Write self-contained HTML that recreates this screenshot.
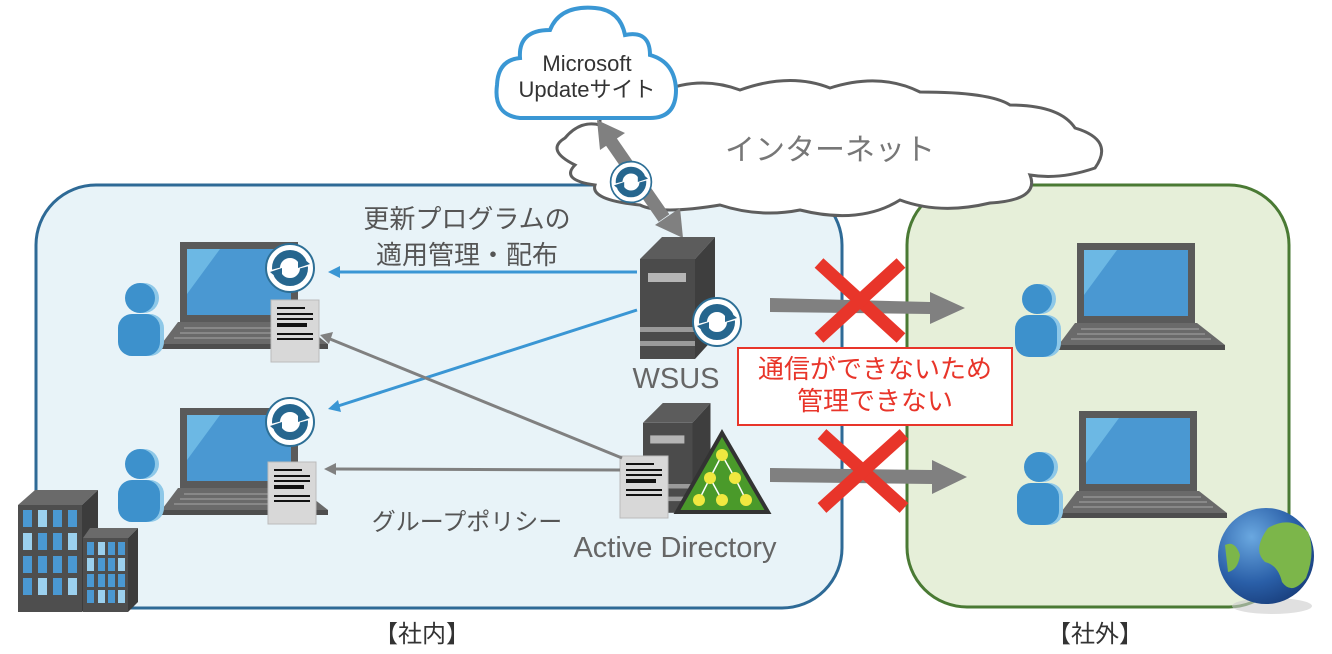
<!DOCTYPE html>
<html><head><meta charset="utf-8"><style>
html,body{margin:0;padding:0;background:#fff;}
svg{display:block;font-family:"Liberation Sans","Noto Sans CJK JP",sans-serif;}
</style></head><body>
<svg width="1332" height="654" viewBox="0 0 1332 654" xmlns="http://www.w3.org/2000/svg">
<defs>
<g id="sync">
 <circle r="24" fill="#fff" stroke="#2d6f96" stroke-width="2"/>
 <circle r="14" fill="none" stroke="#26668e" stroke-width="8"/>
 <rect x="-20" y="-3" width="40" height="6" fill="#fff" transform="rotate(-15)"/>
 <polygon points="8,-14 20,-4 8,0" fill="#26668e"/>
 <polygon points="-8,14 -20,4 -8,0" fill="#26668e"/>
</g>
<g id="laptop">
 <rect x="0" y="0" width="118" height="80" fill="#5a5a5a"/>
 <rect x="7" y="7" width="104" height="66" fill="#4a98d2"/>
 <polygon points="7,7 40,7 7,52" fill="#6cb8e4"/>
 <polygon points="-2,80 120,80 148,102 -20,104" fill="#6a6a6a"/>
 <rect x="-20" y="102" width="168" height="5" fill="#4e4e4e"/>
 <g stroke="#888" stroke-width="2">
  <line x1="4" y1="86" x2="122" y2="86"/><line x1="0" y1="91" x2="128" y2="91"/><line x1="-6" y1="96" x2="134" y2="96"/>
 </g>
 <circle cx="-36" cy="56" r="15" fill="#8ec8e8"/>
 <rect x="-58" y="72" width="42" height="42" rx="14" fill="#8ec8e8"/>
 <circle cx="-40" cy="56" r="15" fill="#3d91cc"/>
 <rect x="-62" y="72" width="42" height="42" rx="14" fill="#3d91cc"/>
</g>
<g id="doc">
 <rect x="0" y="0" width="48" height="62" fill="#d8d8d8" stroke="#bbb"/>
 <g fill="#111">
  <rect x="6" y="7" width="28" height="2"/><rect x="6" y="13" width="36" height="2"/><rect x="6" y="18" width="36" height="2"/><rect x="6" y="23" width="30" height="4"/><rect x="6" y="33" width="36" height="2"/><rect x="6" y="38" width="36" height="2"/>
 </g>
</g>
<g id="server">
 <polygon points="0,22 22,0 75,0 55,22" fill="#5c5c5c"/>
 <polygon points="55,22 75,0 75,100 55,122" fill="#3e3e3e"/>
 <rect x="0" y="22" width="55" height="100" fill="#4b4b4b"/>
 <rect x="8" y="36" width="38" height="9" fill="#b5b5b5"/>
 <rect x="0" y="90" width="55" height="5" fill="#9a9a9a"/>
 <rect x="0" y="104" width="55" height="5" fill="#9a9a9a"/>
</g>
<radialGradient id="gl" cx="0.35" cy="0.3" r="0.8"><stop offset="0" stop-color="#6aa8e0"/><stop offset="0.6" stop-color="#2a5fa8"/><stop offset="1" stop-color="#173b78"/></radialGradient>
</defs>

<!-- boxes -->
<rect x="36" y="185" width="806" height="423" rx="60" fill="#e8f3f8" stroke="#2e6a96" stroke-width="3"/>
<rect x="907" y="185" width="382" height="422" rx="60" fill="#e6efd9" stroke="#4a7a34" stroke-width="3"/>

<!-- internet cloud -->
<path d="M600,100 Q620,80 660,92 Q700,75 740,90 Q790,72 830,88 Q880,72 920,92 Q990,92 1010,105 Q1060,105 1075,128 Q1115,140 1095,168 Q1060,180 1030,175 Q1040,200 990,203 Q940,215 900,200 Q860,225 800,210 Q760,218 720,205 Q660,215 640,205 Q590,200 595,185 Q560,180 575,165 Q545,150 565,138 Q580,120 600,125 Z" fill="#fff" stroke="#5e5e5e" stroke-width="3"/>
<text x="830" y="160" font-size="30" fill="#777" text-anchor="middle">インターネット</text>

<!-- MS cloud -->
<path d="M520,118 Q493,115 497,85 Q498,60 520,58 Q518,30 550,30 Q560,5 595,8 Q620,10 625,35 Q650,30 650,55 Q675,62 676,90 Q676,118 650,118 Z" fill="#fff" stroke="#3a97d4" stroke-width="4"/>
<text x="587" y="71" font-size="22" fill="#333" text-anchor="middle">Microsoft</text>
<text x="587" y="97" font-size="22" fill="#333" text-anchor="middle">Updateサイト</text>

<!-- double arrow -->
<line x1="610" y1="140" x2="664" y2="218" stroke="#808080" stroke-width="13"/>
<polygon points="597,120 625,133 600,150" fill="#808080"/>
<polygon points="683,238 655,225 680,208" fill="#808080"/>
<use href="#sync" transform="translate(631,182) scale(0.85)"/>

<!-- laptops -->
<use href="#laptop" x="180" y="242"/>
<use href="#laptop" x="180" y="408"/>
<use href="#laptop" x="1077" y="243"/>
<use href="#laptop" x="1079" y="411"/>
<use href="#sync" x="290" y="268"/>
<use href="#sync" x="290" y="422"/>
<use href="#doc" x="271" y="300"/>
<use href="#doc" x="268" y="462"/>

<!-- servers -->
<use href="#server" x="640" y="237"/>
<use href="#sync" x="717" y="322"/>
<text x="676" y="388" font-size="29" fill="#666" text-anchor="middle">WSUS</text>
<use href="#server" x="643" y="403" transform="translate(643,403) scale(0.9) translate(-643,-403)"/>
<polygon points="722,433 768,512 677,512" fill="#4a9a2a" stroke="#333" stroke-width="4"/>
<g stroke="#fff" stroke-width="1.5"><line x1="722" y1="455" x2="710" y2="478"/><line x1="722" y1="455" x2="735" y2="478"/><line x1="710" y1="478" x2="699" y2="500"/><line x1="710" y1="478" x2="722" y2="500"/><line x1="735" y1="478" x2="746" y2="500"/></g>
<g fill="#f0e840"><circle cx="722" cy="455" r="6"/><circle cx="710" cy="478" r="6"/><circle cx="735" cy="478" r="6"/><circle cx="699" cy="500" r="6"/><circle cx="722" cy="500" r="6"/><circle cx="746" cy="500" r="6"/></g>
<use href="#doc" x="620" y="456"/>

<!-- connectors -->
<line x1="637" y1="272" x2="336" y2="272" stroke="#3a96d4" stroke-width="3"/>
<polygon points="328,272 340,266 340,278" fill="#3a96d4"/>
<line x1="637" y1="310" x2="338" y2="406" stroke="#3a96d4" stroke-width="3"/>
<polygon points="328,409 338,400 341,412" fill="#3a96d4"/>
<line x1="622" y1="458" x2="330" y2="339" stroke="#808080" stroke-width="3"/>
<polygon points="320,335 333,332 329,344" fill="#808080"/>
<line x1="620" y1="470" x2="334" y2="469" stroke="#808080" stroke-width="3"/>
<polygon points="324,469 336,463 336,475" fill="#808080"/>

<!-- gray right arrows -->
<polygon points="770,298 930,302 930,292 965,308 930,324 930,314 770,312" fill="#808080"/>
<polygon points="770,468 932,470 932,460 967,477 932,494 932,484 770,482" fill="#808080"/>
<g stroke="#e8352a" stroke-width="13">
<line x1="819" y1="263" x2="901" y2="338"/><line x1="901" y1="263" x2="819" y2="338"/>
<line x1="822" y1="434" x2="904" y2="508"/><line x1="904" y1="434" x2="822" y2="508"/>
</g>

<!-- red box -->
<rect x="738" y="348" width="274" height="77" fill="#fff" stroke="#e8352a" stroke-width="2"/>
<text x="875" y="378" font-size="26" fill="#e8352a" text-anchor="middle">通信ができないため</text>
<text x="875" y="410" font-size="26" fill="#e8352a" text-anchor="middle">管理できない</text>

<!-- labels -->
<text x="467" y="228" font-size="26" fill="#555" text-anchor="middle">更新プログラムの</text>
<text x="467" y="264" font-size="26" fill="#555" text-anchor="middle">適用管理・配布</text>
<text x="467" y="530" font-size="24" fill="#555" text-anchor="middle">グループポリシー</text>
<text x="675" y="557" font-size="29" fill="#666" text-anchor="middle">Active Directory</text>
<text x="422" y="642" font-size="24" fill="#333" text-anchor="middle">【社内】</text>
<text x="1095" y="642" font-size="24" fill="#333" text-anchor="middle">【社外】</text>

<!-- buildings -->
<polygon points="18,505 35,490 98,490 82,505" fill="#6a6a6a"/>
<polygon points="82,505 98,490 98,600 82,612" fill="#3c3c3c"/>
<rect x="18" y="505" width="64" height="107" fill="#4e4e4e"/>
<g fill="#4a98d2">
<rect x="23" y="510" width="9" height="17"/><rect x="38" y="510" width="9" height="17" fill="#9bd0ee"/><rect x="53" y="510" width="9" height="17"/><rect x="68" y="510" width="9" height="17"/>
<rect x="23" y="533" width="9" height="17" fill="#9bd0ee"/><rect x="38" y="533" width="9" height="17"/><rect x="53" y="533" width="9" height="17"/><rect x="68" y="533" width="9" height="17" fill="#9bd0ee"/>
<rect x="23" y="556" width="9" height="17"/><rect x="38" y="556" width="9" height="17"/><rect x="53" y="556" width="9" height="17"/><rect x="68" y="556" width="9" height="17"/>
<rect x="23" y="578" width="9" height="17"/><rect x="38" y="578" width="9" height="17" fill="#9bd0ee"/><rect x="53" y="578" width="9" height="17"/><rect x="68" y="578" width="9" height="17" fill="#9bd0ee"/>
</g>
<polygon points="83,538 90,528 138,528 128,538" fill="#6a6a6a"/>
<polygon points="128,538 138,528 138,602 128,612" fill="#3c3c3c"/>
<rect x="83" y="538" width="45" height="74" fill="#4e4e4e"/>
<g fill="#4a98d2">
<rect x="87" y="542" width="7" height="13"/><rect x="98" y="542" width="7" height="13" fill="#9bd0ee"/><rect x="108" y="542" width="7" height="13"/><rect x="118" y="542" width="7" height="13"/>
<rect x="87" y="558" width="7" height="13" fill="#9bd0ee"/><rect x="98" y="558" width="7" height="13"/><rect x="108" y="558" width="7" height="13"/><rect x="118" y="558" width="7" height="13" fill="#9bd0ee"/>
<rect x="87" y="574" width="7" height="13"/><rect x="98" y="574" width="7" height="13"/><rect x="108" y="574" width="7" height="13"/><rect x="118" y="574" width="7" height="13"/>
<rect x="87" y="590" width="7" height="13"/><rect x="98" y="590" width="7" height="13" fill="#9bd0ee"/><rect x="108" y="590" width="7" height="13"/><rect x="118" y="590" width="7" height="13" fill="#9bd0ee"/>
</g>

<!-- globe -->
<ellipse cx="1272" cy="606" rx="40" ry="8" fill="#ccc" opacity="0.6"/>
<circle cx="1266" cy="556" r="48" fill="url(#gl)"/>
<path d="M1268,528 Q1290,515 1308,532 Q1316,552 1306,578 Q1292,596 1282,582 Q1278,565 1265,562 Q1252,550 1268,528 Z" fill="#7cb64a"/>
<path d="M1225,545 Q1235,540 1240,555 Q1238,570 1228,572 Z" fill="#7cb64a"/>
</svg>
</body></html>
